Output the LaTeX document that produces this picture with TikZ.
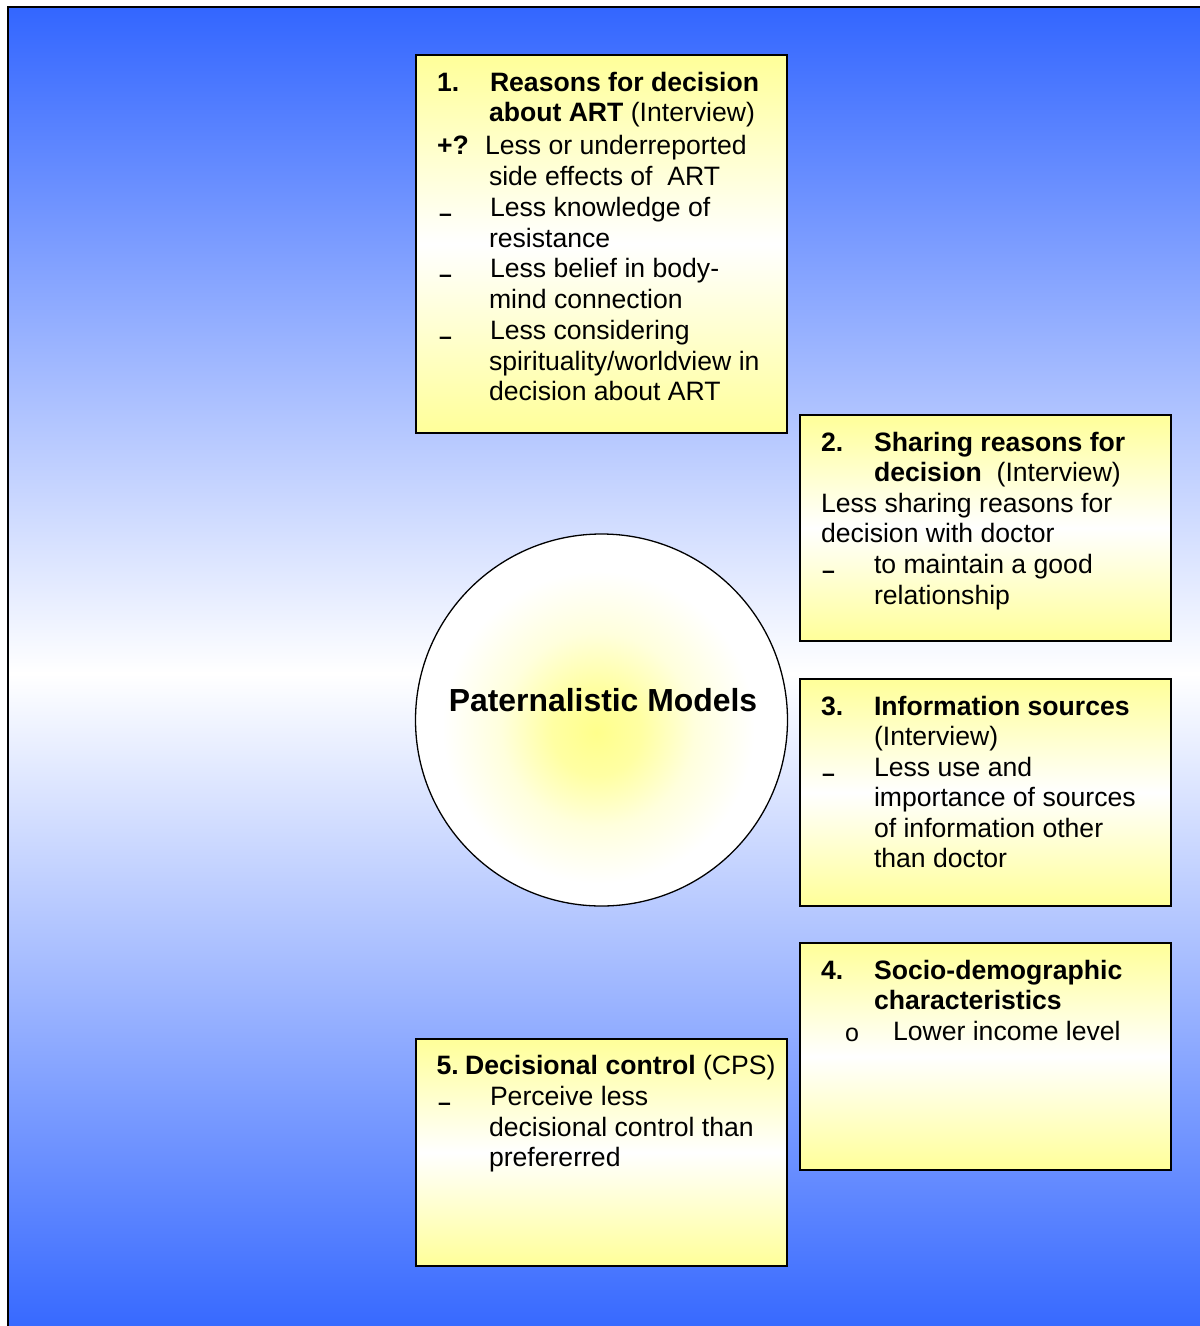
\documentclass[tikz,border=0pt]{standalone}
\usepackage{fontspec}
\setmainfont{Liberation Sans}
\definecolor{bgblue}{RGB}{51,102,255}
\definecolor{cyel}{RGB}{255,255,153}
\definecolor{cyelc}{RGB}{255,255,140}
\pgfdeclareradialshading{myball}{\pgfpoint{-0.7bp}{-1.7bp}}{color(0bp)=(cyelc); color(6bp)=(cyelc!80!white); color(13bp)=(cyelc!30!white); color(21bp)=(white); color(50bp)=(white)}
\tikzset{
  txt/.style={anchor=base west, inner sep=0pt, outer sep=0pt, font=\fontsize{26.6}{30.5}\selectfont},
  btxt/.style={txt, font=\fontsize{26.6}{30.5}\selectfont\bfseries},
  dashb/.style={anchor=base west, inner sep=0pt, outer sep=0pt, font=\fontsize{23}{26}\selectfont\bfseries},
  obul/.style={anchor=base west, inner sep=0pt, outer sep=0pt, font=\fontsize{25}{28}\selectfont},
  box/.style={draw=black, line width=1.8pt, top color=cyel, bottom color=cyel, middle color=white, anchor=north west, inner sep=0pt, outer sep=0pt},
}
\begin{document}
\begin{tikzpicture}[x=1pt,y=-1pt]
\useasboundingbox (0,0) rectangle (1200,1326);
\begin{scope}
\clip (0,0) rectangle (1200,1326);
\draw[line width=2pt, top color=bgblue, bottom color=bgblue, middle color=white] (8,7) rectangle (1215,1340);
\end{scope}

% boxes
\node[box, minimum width=371pt, minimum height=378pt] (b1) at (416,55) {};
\node[box, minimum width=371pt, minimum height=226pt] (b2) at (800,415) {};
\node[box, minimum width=371pt, minimum height=227pt] (b3) at (800,679) {};
\node[box, minimum width=371pt, minimum height=227pt] (b4) at (800,943) {};
\node[box, minimum width=371pt, minimum height=227pt] (b5) at (416,1039) {};

% circle
\node[circle, draw=black, line width=1.3pt, minimum size=372pt, inner sep=0pt, shading=myball] (c) at (601.5,720) {};
\node[anchor=base, inner sep=0pt, font=\fontsize{31.9}{36}\selectfont\bfseries] (ct) at (603,711) {Paternalistic Models};

% box 1
\node[btxt] (n1) at (437,91.5) {1.};
\node[btxt] (t1a) at (490,91.5) {Reasons for decision};
\node[txt] (t1b) at (489,121) {\textbf{about ART} (Interview)};
\node[btxt] (p1) at (437,154.5) {+?};
\node[txt] (t1c) at (485,154.5) {Less or underreported};
\node[txt] (t1d) at (489,185) {side effects of\ \ ART};
\node[dashb] (d1) at (439,221) {–};
\node[txt] (t1e) at (490,216.5) {Less knowledge of};
\node[txt] (t1f) at (489,247) {resistance};
\node[dashb] (d2) at (439,282) {–};
\node[txt] (t1g) at (490,277.5) {Less belief in body-};
\node[txt] (t1h) at (489,308) {mind connection};
\node[dashb] (d3) at (439,344) {–};
\node[txt] (t1i) at (490,339.5) {Less considering};
\node[txt] (t1j) at (489,370) {spirituality/worldview in};
\node[txt] (t1k) at (489,400.5) {decision about ART};

% box 2
\node[btxt] (n2) at (821,451) {2.};
\node[btxt] (t2a) at (874,451) {Sharing reasons for};
\node[txt] (t2b) at (874,481) {\textbf{decision}\ \ (Interview)};
\node[txt] (t2c) at (821,512) {Less sharing reasons for};
\node[txt] (t2d) at (821,542.5) {decision with doctor};
\node[dashb] (d4) at (822,578) {–};
\node[txt] (t2e) at (874,573.5) {to maintain a good};
\node[txt] (t2f) at (874,604) {relationship};

% box 3
\node[btxt] (n3) at (821,715) {3.};
\node[btxt] (t3a) at (874,715) {Information sources};
\node[txt] (t3b) at (874,745) {(Interview)};
\node[dashb] (d5) at (822,781) {–};
\node[txt] (t3c) at (874,776.5) {Less use and};
\node[txt] (t3d) at (874,806.5) {importance of sources};
\node[txt] (t3e) at (874,837) {of information other};
\node[txt] (t3f) at (874,867.5) {than doctor};

% box 4
\node[btxt] (n4) at (821,979) {4.};
\node[btxt] (t4a) at (874,979) {Socio-demographic};
\node[btxt] (t4b) at (874,1009.5) {characteristics};
\node[obul] (o1) at (845,1041) {o};
\node[txt] (t4c) at (893,1040.5) {Lower income level};

% box 5
\begin{scope}
\clip (416,1039) rectangle (775,1266);
\node[txt] (t5a) at (436.5,1074) {\textbf{5.\hspace{6.4pt}Decisional control} (CPS)};
\end{scope}
\node[dashb] (d6) at (438,1110) {–};
\node[txt] (t5b) at (490,1105) {Perceive less};
\node[txt] (t5c) at (489,1136) {decisional control than};
\node[txt] (t5d) at (489,1166) {prefererred};
\end{tikzpicture}
\end{document}
